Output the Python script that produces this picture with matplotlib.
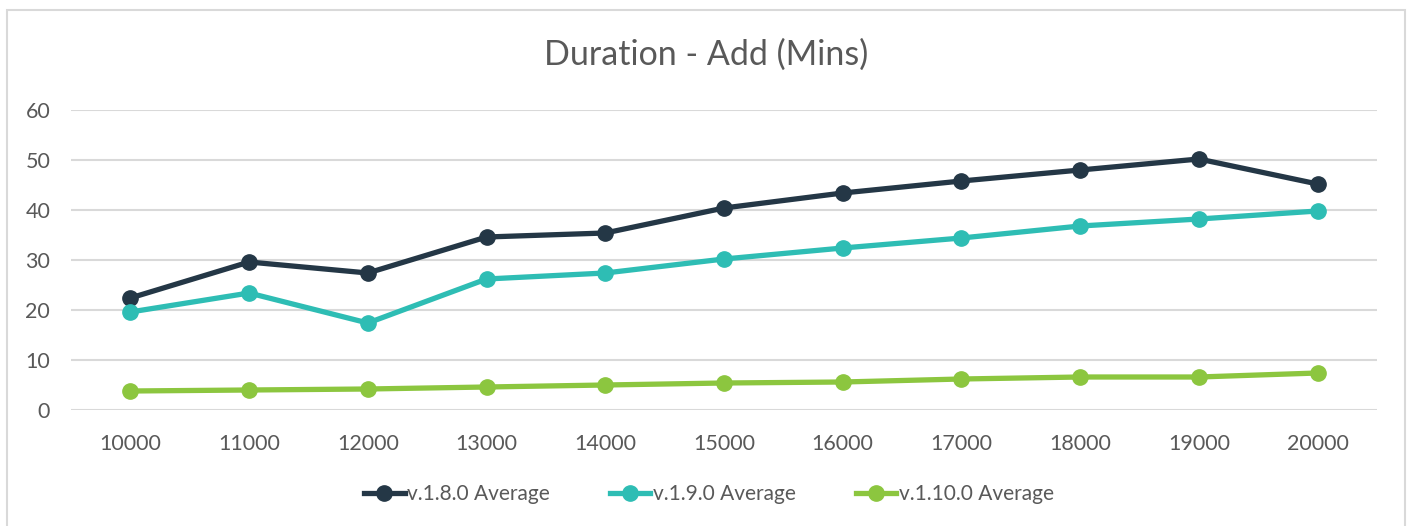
import matplotlib.pyplot as plt
from matplotlib.patches import Rectangle

# ---------------------------------------------------------------------------------------------------------------- #
# Data
records = ['10000', '11000', '12000', '13000', '14000', '15000', '16000', '17000', '18000', '19000', '20000']
v180 = [22.4, 29.6, 27.4, 34.6, 35.4, 40.4, 43.4, 45.8, 48.0, 50.2, 45.2]
v190 = [19.6, 23.4, 17.4, 26.2, 27.4, 30.2, 32.4, 34.4, 36.8, 38.2, 39.8]
v1100 = [3.8, 4.0, 4.2, 4.6, 5.0, 5.4, 5.6, 6.2, 6.6, 6.6, 7.4]
y_ticks = [0, 10, 20, 30, 40, 50, 60]

series = [('v.1.8.0 Average', v180, '#243746'),
          ('v.1.9.0 Average', v190, '#2ebdb4'),
          ('v.1.10.0 Average', v1100, '#8cc63f')]

plt.rcParams['font.family'] = ['Lato', 'DejaVu Sans']
text_col = '#595959'
grid_col = '#d9d9d9'

W, H = 1409, 526
fig = plt.figure(figsize=(W / 100, H / 100), dpi=100)
fig.patches.append(Rectangle((7 / W, -0.05), 1398 / W, 1.05 - 10 / H, transform=fig.transFigure,
                             fill=False, edgecolor=grid_col, linewidth=1.5))

ax = fig.add_axes([71 / W, 1 - 410 / H, 1306 / W, 300 / H])
x = list(range(len(records)))
for name, vals, col in series:
    ax.plot(x, vals, '-o', color=col, linewidth=3.8, markersize=11, label=name)

ax.set_xlim(-0.5, len(records) - 0.5)
ax.set_ylim(0, 60)
ax.set_xticks(x)
ax.set_xticklabels(records)
ax.set_yticks(y_ticks)
ax.yaxis.grid(True, color=grid_col, linewidth=1.5)
ax.set_axisbelow(True)
for s in ax.spines.values():
    s.set_visible(False)
ax.tick_params(axis='both', length=0, labelsize=15.5, colors=text_col)
ax.tick_params(axis='x', pad=17)
ax.tick_params(axis='y', pad=15)

fig.text(0.501, 1 - 55 / H, 'Duration - Add (Mins)', ha='center', va='center', fontsize=24.5, color=text_col)

fig.legend(loc='center', bbox_to_anchor=(0.503, 1 - 494 / H), ncol=3, frameon=False,
           fontsize=15, labelcolor=text_col, handlelength=1.95, handletextpad=0.1, columnspacing=2.9)

fig.savefig('out.png', dpi=100)
